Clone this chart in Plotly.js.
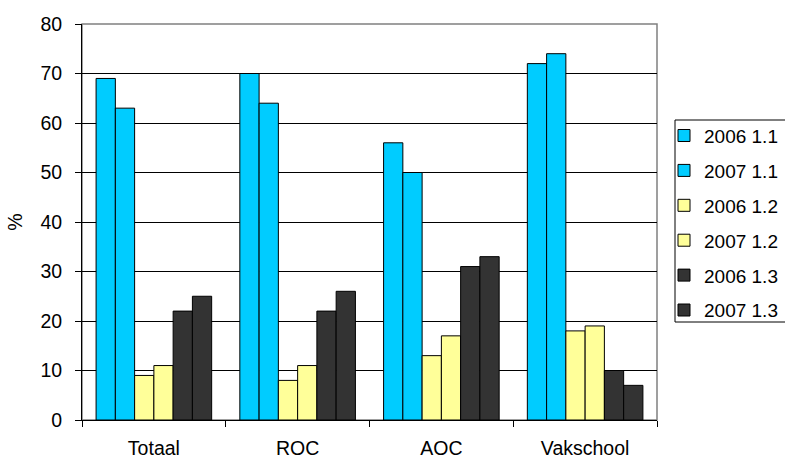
<!DOCTYPE html>
<html><head><meta charset="utf-8">
<script src="https://cdn.plot.ly/plotly-3.0.1.min.js"></script>
<style>html,body{margin:0;padding:0;background:#fff}#c{width:785px;height:459px}</style>
</head><body><div id="c"></div>
<script>
const categories = ["Totaal", "ROC", "AOC", "Vakschool"];
const seriesNames = ["2006 1.1", "2007 1.1", "2006 1.2", "2007 1.2", "2006 1.3", "2007 1.3"];
const s2006_11 = [69, 70, 56, 72];
const s2007_11 = [63, 64, 50, 74];
const s2006_12 = [9, 8, 13, 18];
const s2007_12 = [11, 11, 17, 19];
const s2006_13 = [22, 22, 31, 10];
const s2007_13 = [25, 26, 33, 7];
const yTicks = [0, 10, 20, 30, 40, 50, 60, 70, 80];

const values = [s2006_11, s2007_11, s2006_12, s2007_12, s2006_13, s2007_13];
const colors = ["#00CCFF", "#00CCFF", "#FFFF99", "#FFFF99", "#333333", "#333333"];

const traces = values.map((v, i) => ({
  type: "bar",
  name: seriesNames[i],
  x: categories,
  y: v,
  legendgroup: "g" + i,
  marker: {color: colors[i], line: {color: "#000", width: 1}},
  hoverinfo: "skip"
}));

const FS = 19.5;
const LFS = 19;
const layout = {
  width: 785, height: 459,
  margin: {l: 82, r: 128, t: 24, b: 39, autoexpand: false},
  paper_bgcolor: "#fff", plot_bgcolor: "#fff",
  font: {family: "Liberation Sans, Arial, sans-serif", size: FS, color: "#000"},
  barmode: "group", bargap: 0.196, bargroupgap: 0,
  showlegend: true,
  legend: {
    x: (676 - 82) / 575, xanchor: "left", y: 0.766, yanchor: "top",
    borderwidth: 0, bgcolor: "rgba(0,0,0,0)",
    font: {size: LFS, family: "Liberation Sans, Arial, sans-serif"},
    tracegroupgap: 7.2, traceorder: "grouped", indentation: -12
  },
  xaxis: {
    type: "category", showline: true, linecolor: "#000", linewidth: 1,
    ticks: "outside", tickson: "boundaries", ticklen: 6, tickcolor: "#000",
    showgrid: false, ticklabelstandoff: 11, fixedrange: true
  },
  yaxis: {
    range: [0, 80], tickvals: yTicks, ticktext: yTicks.map(String),
    showline: true, linecolor: "#000", linewidth: 1,
    ticks: "outside", ticklen: 6, tickcolor: "#000",
    showgrid: true, gridcolor: "#000", gridwidth: 1, zeroline: false,
    ticklabelstandoff: 9,
    title: {text: "%", font: {size: FS}, standoff: 12}, fixedrange: true
  },
  shapes: [{
    type: "rect", xref: "paper", yref: "paper", x0: 0, x1: 1, y0: 0, y1: 1,
    line: {color: "#808080", width: 1.5}, layer: "below"
  }, {
    type: "rect", xref: "paper", yref: "paper",
    x0: (675 - 82) / 575, x1: (800 - 82) / 575,
    y0: (420 - 322) / 396, y1: (420 - 120) / 396,
    line: {color: "#000", width: 1}, fillcolor: "rgba(0,0,0,0)", layer: "above"
  }]
};

Plotly.newPlot("c", traces, layout, {displayModeBar: false, staticPlot: true});
</script></body></html>
